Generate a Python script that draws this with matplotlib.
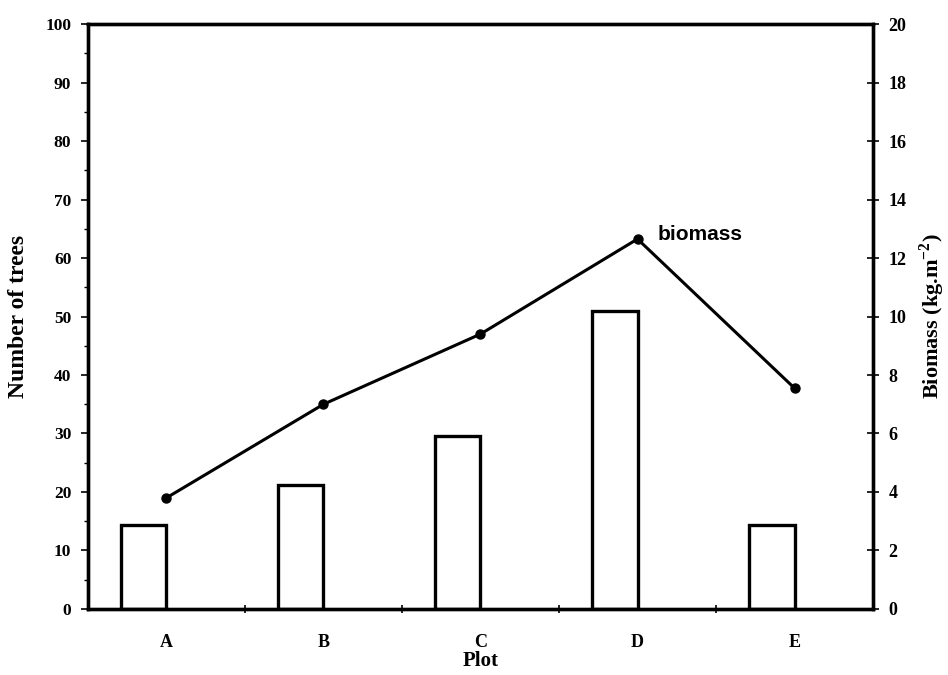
import matplotlib
matplotlib.use('Agg')
import matplotlib.pyplot as plt
import numpy as np

# data
plots = ['A', 'B', 'C', 'D', 'E']
n_trees = [14.4, 21.2, 29.5, 51.0, 14.4]
biomass = [3.8, 7.0, 9.4, 12.65, 7.55]

serif = 'Liberation Serif'
plt.rcParams['mathtext.fontset'] = 'custom'
plt.rcParams['mathtext.rm'] = 'Liberation Serif:bold'
plt.rcParams['mathtext.bf'] = 'Liberation Serif:bold'

fig = plt.figure(figsize=(9.48, 6.75), dpi=100)
ax = fig.add_axes([0.0928, 0.0978, 0.8281, 0.8666])
ax2 = ax.twinx()

x = np.arange(len(plots))

# bars sit just left of each category centre
ax.bar(x - 0.145, n_trees, width=0.29, facecolor='white', edgecolor='black', linewidth=2.4, zorder=2)

ax2.plot(x, biomass, color='black', linewidth=2.2, marker='o', markersize=6.5, zorder=3)
ax2.annotate('biomass', xy=(x[3], biomass[3]), xytext=(20, 5), textcoords='offset pixels',
             fontsize=15, fontweight='bold', family='Liberation Sans', va='center', ha='left')

ax.set_xlim(-0.5, 4.5)
ax.set_ylim(0, 100)
ax2.set_ylim(0, 20)

ax.set_xticks(x)
ax.set_xticklabels(plots, fontsize=13, fontweight='bold', family=serif)
ax.set_xticks(np.arange(0.5, 4.5, 1), minor=True)
ax.tick_params(axis='x', which='major', length=0, pad=18)
ax.tick_params(axis='x', which='minor', length=6, width=1.2, direction='inout')

ax.set_yticks(np.arange(0, 101, 10))
ax.set_yticks(np.arange(5, 100, 10), minor=True)
ax.tick_params(axis='y', which='major', length=5, width=1.2, direction='out', pad=7)
ax.tick_params(axis='y', which='minor', length=3, width=1.0, direction='out')
for lab in ax.get_yticklabels():
    lab.set_fontsize(12.5)
    lab.set_fontweight('bold')
    lab.set_family(serif)

ax2.set_yticks(np.arange(0, 21, 2))
ax2.tick_params(axis='y', which='major', length=8, width=1.2, direction='inout', pad=7)
for lab in ax2.get_yticklabels():
    lab.set_fontsize(13)
    lab.set_fontweight('bold')
    lab.set_family(serif)

for a in (ax, ax2):
    for sp in a.spines.values():
        sp.set_linewidth(2.4)

ax.set_xlabel('Plot', fontsize=15, fontweight='bold', family=serif, labelpad=0)
ax.set_ylabel('Number of trees', fontsize=17, fontweight='bold', family=serif, labelpad=12)
ax2.set_ylabel(r'Biomass (kg.m$^{\mathbf{-2}}$)', fontsize=16, fontweight='bold', family=serif,
               labelpad=8)

fig.savefig('out.png', dpi=100)
